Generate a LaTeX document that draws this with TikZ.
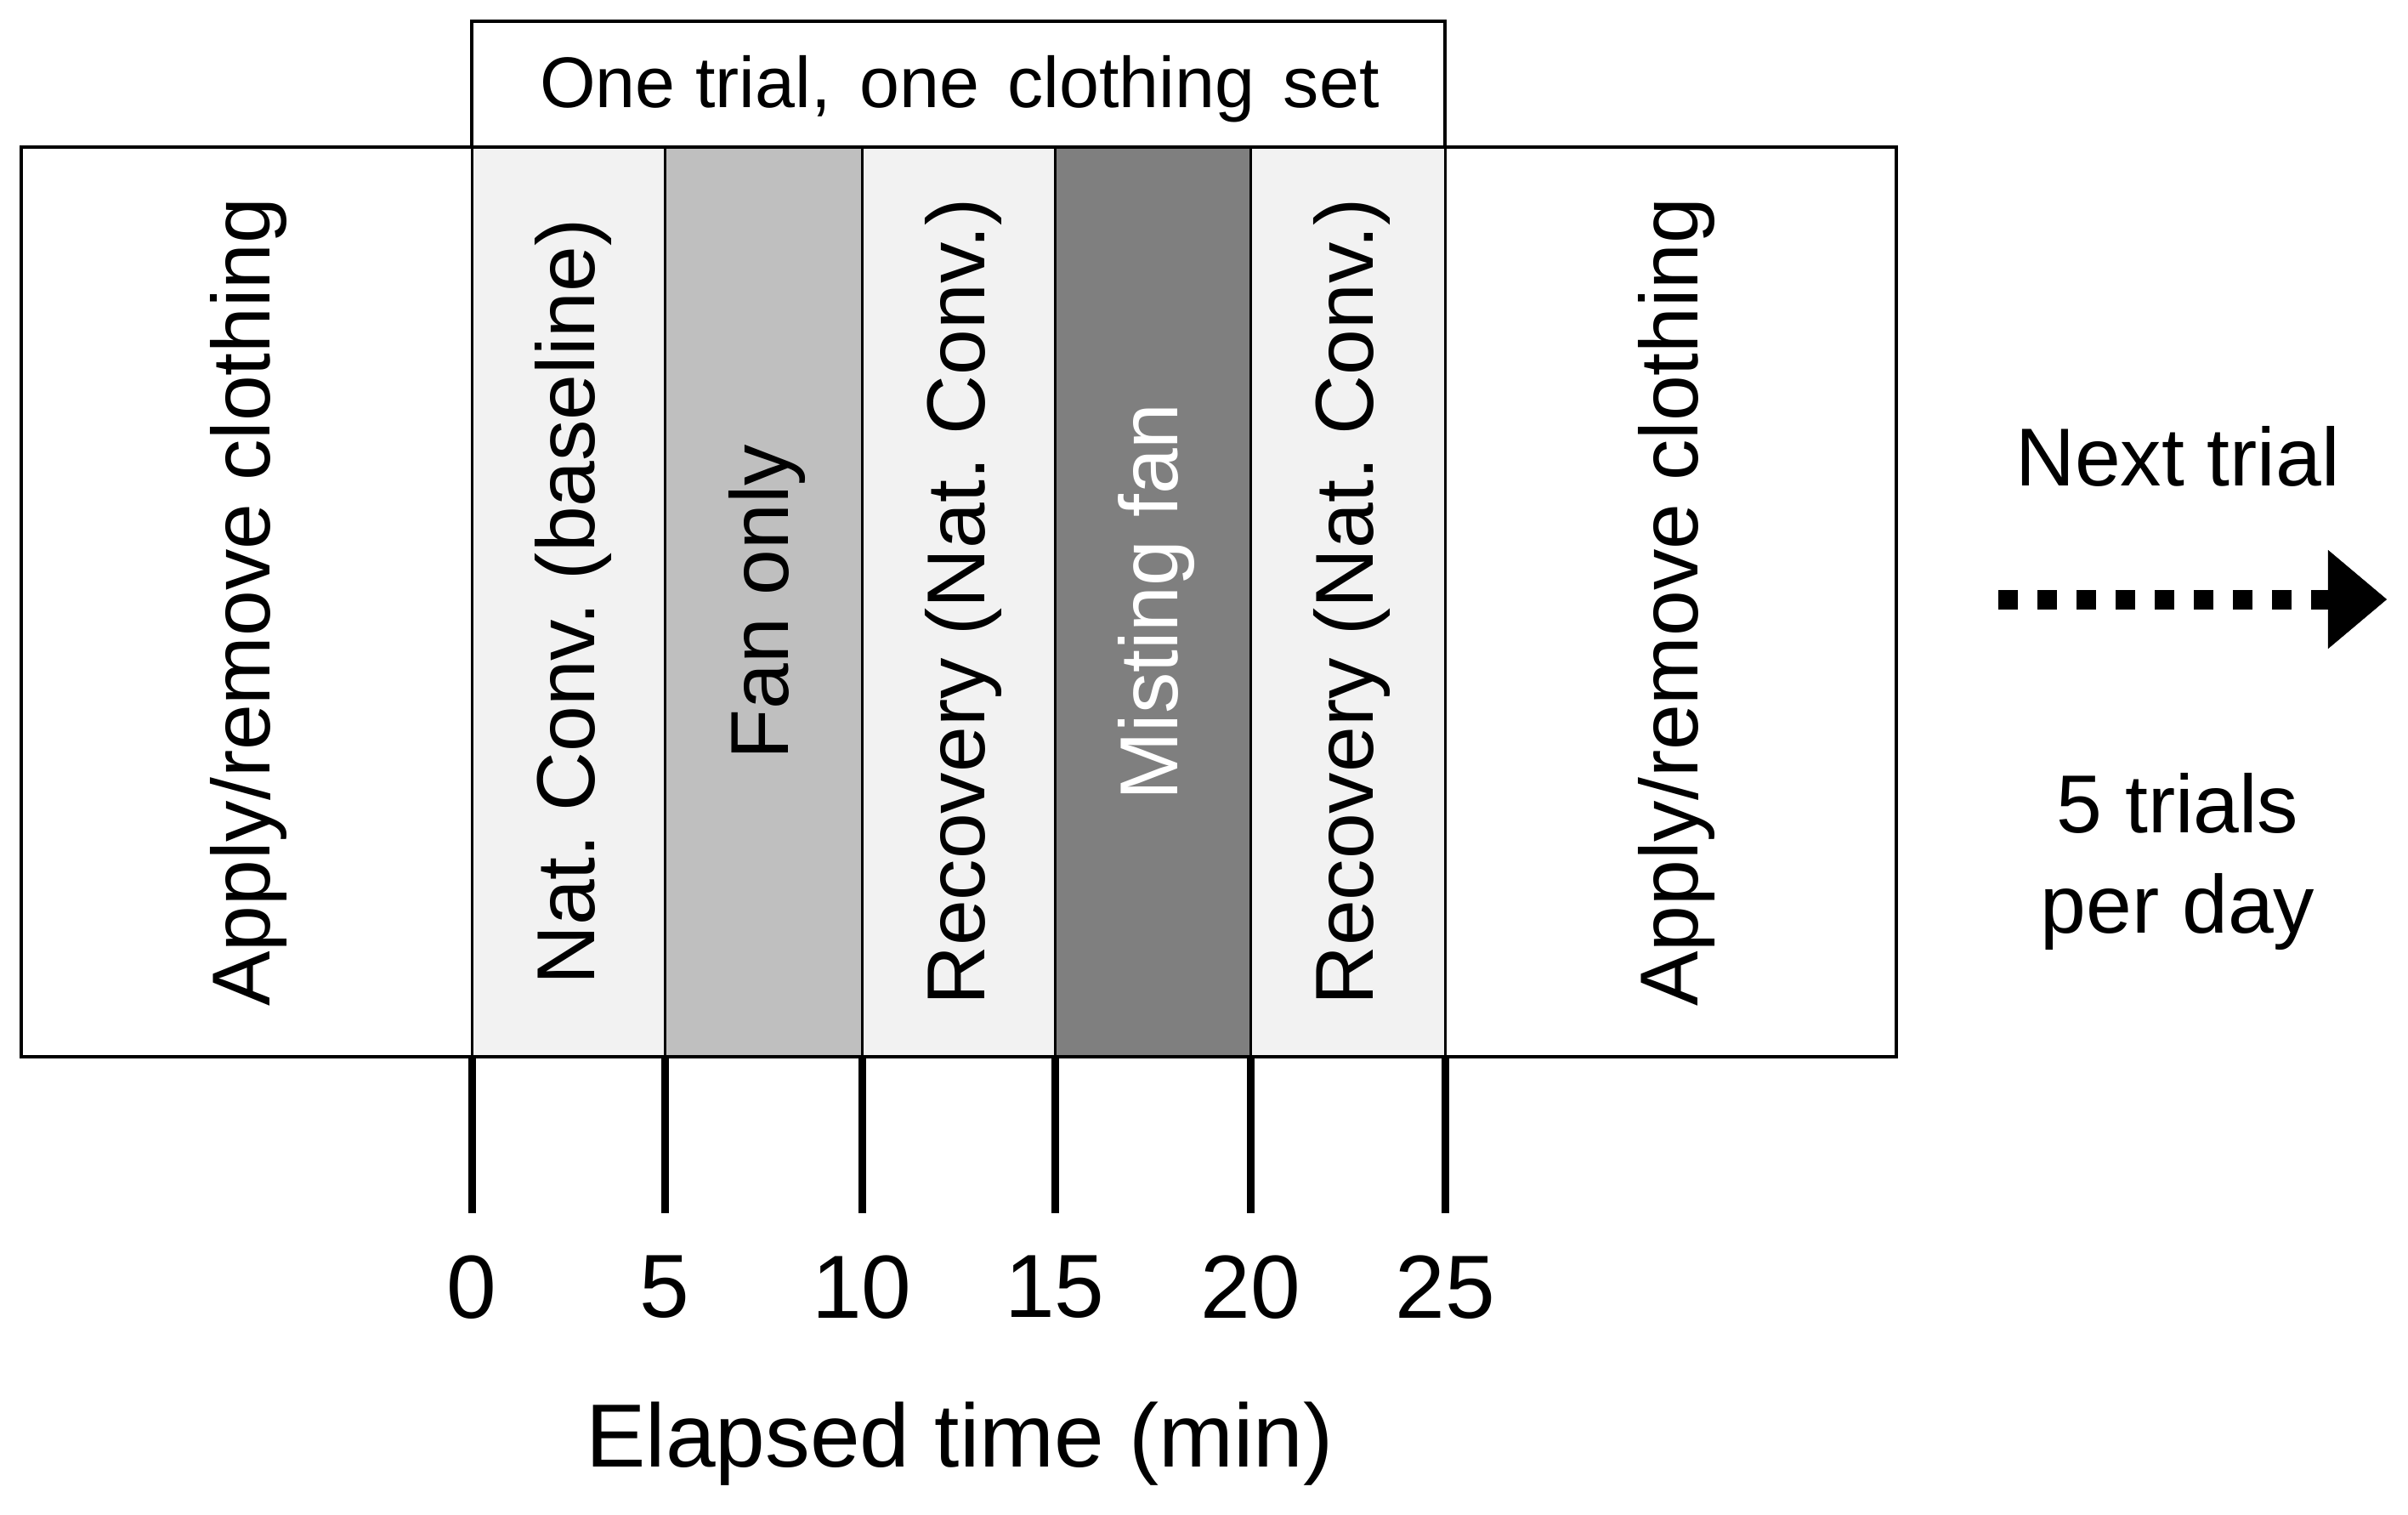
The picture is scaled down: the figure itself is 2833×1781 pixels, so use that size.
\documentclass[tikz,border=0pt]{standalone}
\usepackage{fontspec}
\setmainfont{Liberation Sans}
\usetikzlibrary{arrows.meta}
\definecolor{lightfill}{HTML}{F2F2F2}
\definecolor{midfill}{HTML}{BFBFBF}
\definecolor{darkfill}{HTML}{7F7F7F}
\frenchspacing
\begin{document}
\begin{tikzpicture}[x=0.01cm,y=-0.01cm,
  boxline/.style={draw=black,line width=0.04cm},
  sepline/.style={draw=black,line width=0.03cm},
  lbl/.style={inner sep=0pt,font=\fontsize{27.5}{33}\selectfont},
  toplbl/.style={inner sep=0pt,font=\fontsize{24}{29}\selectfont},
  vlbl/.style={lbl,rotate=90},
  axlbl/.style={inner sep=0pt,font=\fontsize{30}{36}\selectfont},
  tickline/.style={line width=0.09cm}]
\useasboundingbox (0,0) rectangle (2833,1781);
% phase fills
\fill[lightfill] (555,173) rectangle (782,1243);
\fill[midfill]   (782,173) rectangle (1014,1243);
\fill[lightfill] (1014,173) rectangle (1241,1243);
\fill[darkfill]  (1241,173) rectangle (1471,1243);
\fill[lightfill] (1471,173) rectangle (1700,1243);
% separators
\foreach \xx in {555,782,1014,1241,1471,1700}
  \draw[sepline] (\xx,173) -- (\xx,1243);
% boxes
\draw[boxline] (25,173) rectangle (2231,1243);
\draw[boxline] (555,25) rectangle (1700,173);
% labels
\node[toplbl] (top) at (1129,105) {One trial,\kern0.12em\ one\kern0.12em\ clothing\kern0.12em\ set};
\node[vlbl] (applyL) at (292,708) {Apply/remove clothing};
\node[vlbl] (nat) at (674,708) {Nat. Conv. (baseline)};
\node[vlbl] (fan) at (902,708) {Fan only};
\node[vlbl] (rec1) at (1133,708) {Recovery (Nat. Conv.)};
\node[vlbl,text=white] (mist) at (1360,708) {Misting fan};
\node[vlbl] (rec2) at (1590,708) {Recovery (Nat. Conv.)};
\node[vlbl] (applyR) at (1972,708) {Apply/remove clothing};
% ticks
\foreach \xx/\lab [count=\i] in {555/0,782/5,1014/10,1241/15,1471/20,1700/25}{
  \coordinate (t\i) at (\xx,1243);
  \coordinate (b\i) at (\xx,1427);
  \draw[tickline] (t\i) -- (b\i);
  \node[axlbl] (n\i) at (\xx,1514) {\lab};
}
\node[axlbl] (xlab) at (1129,1698) {Elapsed time (min)};
% right side
\node[lbl] (next) at (2562,537) {Next trial};
\coordinate (as) at (2351,705);
\coordinate (ae) at (2808,705);
\draw[line width=0.23cm,dash pattern=on 0.23cm off 0.23cm,
  -{Triangle[length=0.69cm,width=1.16cm,line width=0.1pt]}] (as) -- (ae);
\node[lbl,anchor=base] (five) at (2562,979) {5 trials};
\node[lbl,anchor=base] (perday) at (2562,1097) {per day};
\end{tikzpicture}
\end{document}
